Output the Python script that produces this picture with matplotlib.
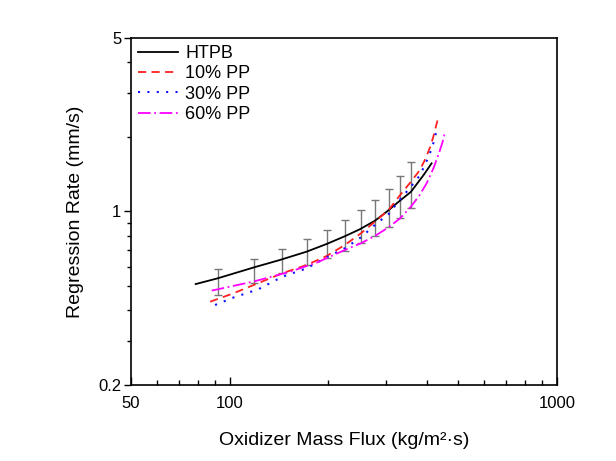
import matplotlib
matplotlib.use("Agg")
import matplotlib.pyplot as plt
from matplotlib.ticker import FixedLocator, NullFormatter

plt.rcParams['font.family'] = ['Liberation Sans', 'DejaVu Sans']

# HTPB fit line
htpb_flux = [78.8, 92, 119, 142.6, 172, 198, 225, 250, 278, 302, 324, 358, 391, 414]
htpb_rate = [0.510, 0.538, 0.596, 0.638, 0.689, 0.740, 0.795, 0.848, 0.918, 0.998, 1.079, 1.20, 1.40, 1.563]

# 10% PP
pp10_flux = [87.2, 102.7, 145, 172, 198, 225, 252, 278, 306, 332, 358, 380, 395, 410, 419, 434]
pp10_rate = [0.433, 0.468, 0.564, 0.609, 0.662, 0.733, 0.817, 0.910, 1.014, 1.166, 1.318, 1.46, 1.613, 1.82, 2.0, 2.397]

# 30% PP
pp30_flux = [90.3, 102.7, 122.4, 145, 172, 198, 225, 252, 278, 306, 332, 358, 382, 407, 420, 429]
pp30_rate = [0.420, 0.450, 0.486, 0.546, 0.590, 0.654, 0.711, 0.787, 0.883, 0.977, 1.12, 1.259, 1.403, 1.68, 1.9, 2.13]

# 60% PP
pp60_flux = [88.2, 118.2, 153, 184.5, 225, 252, 278, 306, 332, 358, 380, 400, 420, 435, 447, 455]
pp60_rate = [0.480, 0.522, 0.572, 0.622, 0.700, 0.745, 0.797, 0.864, 0.939, 1.046, 1.16, 1.30, 1.50, 1.70, 1.90, 2.085]

# HTPB error bars
bar_flux = [92, 119, 145, 172, 198, 225, 252, 278, 306, 332, 358]
bar_rate = [0.523, 0.580, 0.636, 0.692, 0.746, 0.811, 0.879, 0.957, 1.05, 1.162, 1.304]
bar_err = [0.062, 0.066, 0.072, 0.083, 0.098, 0.116, 0.135, 0.158, 0.186, 0.224, 0.274]

x_major = [50, 100, 1000]
x_minor = [60, 70, 80, 90, 200, 300, 400, 500, 600, 700, 800, 900]
y_major = [0.2, 1, 5]
y_minor = [0.3, 0.4, 0.5, 0.6, 0.7, 0.8, 0.9, 2, 3, 4]

fig = plt.figure(figsize=(6.16, 4.61), dpi=100)
ax = fig.add_axes([0.2127, 0.1649, 0.6915, 0.7527])

ax.errorbar(bar_flux, bar_rate, yerr=bar_err, fmt='none', ecolor='#777777',
            elinewidth=1.0, capsize=2.6, capthick=1.0, zorder=1)

ax.plot(htpb_flux, htpb_rate, color='black', lw=1.3, label='HTPB', zorder=3)
ax.plot(pp10_flux, pp10_rate, color='#ff2020', lw=1.3, ls=(0, (4.5, 3)), label='10% PP', zorder=3)
ax.plot(pp30_flux, pp30_rate, color='#1010ff', lw=1.5, ls=(0, (1, 3.5)), label='30% PP', zorder=3)
ax.plot(pp60_flux, pp60_rate, color='#ff00ff', lw=1.3, ls=(0, (7, 2, 1, 2)), label='60% PP', zorder=3)

ax.set_xscale('log')
ax.set_yscale('log')
ax.set_xlim(50, 1000)
ax.set_ylim(0.2, 5)

ax.xaxis.set_major_locator(FixedLocator(x_major))
ax.xaxis.set_minor_locator(FixedLocator(x_minor))
ax.yaxis.set_major_locator(FixedLocator(y_major))
ax.yaxis.set_minor_locator(FixedLocator(y_minor))
ax.set_xticklabels([str(v) for v in x_major])
ax.set_yticklabels(['0.2', '1', '5'])
ax.xaxis.set_minor_formatter(NullFormatter())
ax.yaxis.set_minor_formatter(NullFormatter())

ax.tick_params(axis='x', which='major', direction='in', length=6, width=1.0, labelsize=12, pad=8)
ax.tick_params(axis='x', which='minor', direction='in', length=3.5, width=1.0)
ax.tick_params(axis='y', which='major', direction='out', length=5, width=1.0, labelsize=12, pad=2)
ax.tick_params(axis='y', which='minor', direction='out', length=3, width=1.0)

for sp in ax.spines.values():
    sp.set_linewidth(1.2)

ax.set_xlabel('Oxidizer Mass Flux (kg/m\u00b2\u00b7s)', fontsize=14, labelpad=15)
ax.set_ylabel('Regression Rate (mm/s)', fontsize=14, labelpad=10)

ax.legend(loc='upper left', bbox_to_anchor=(0.0, 1.0), frameon=False, fontsize=13,
          handlelength=2.2, handletextpad=0.4, labelspacing=0.18, borderaxespad=0.2,
          borderpad=0.2)

fig.savefig('out.png', dpi=100, facecolor='white')
